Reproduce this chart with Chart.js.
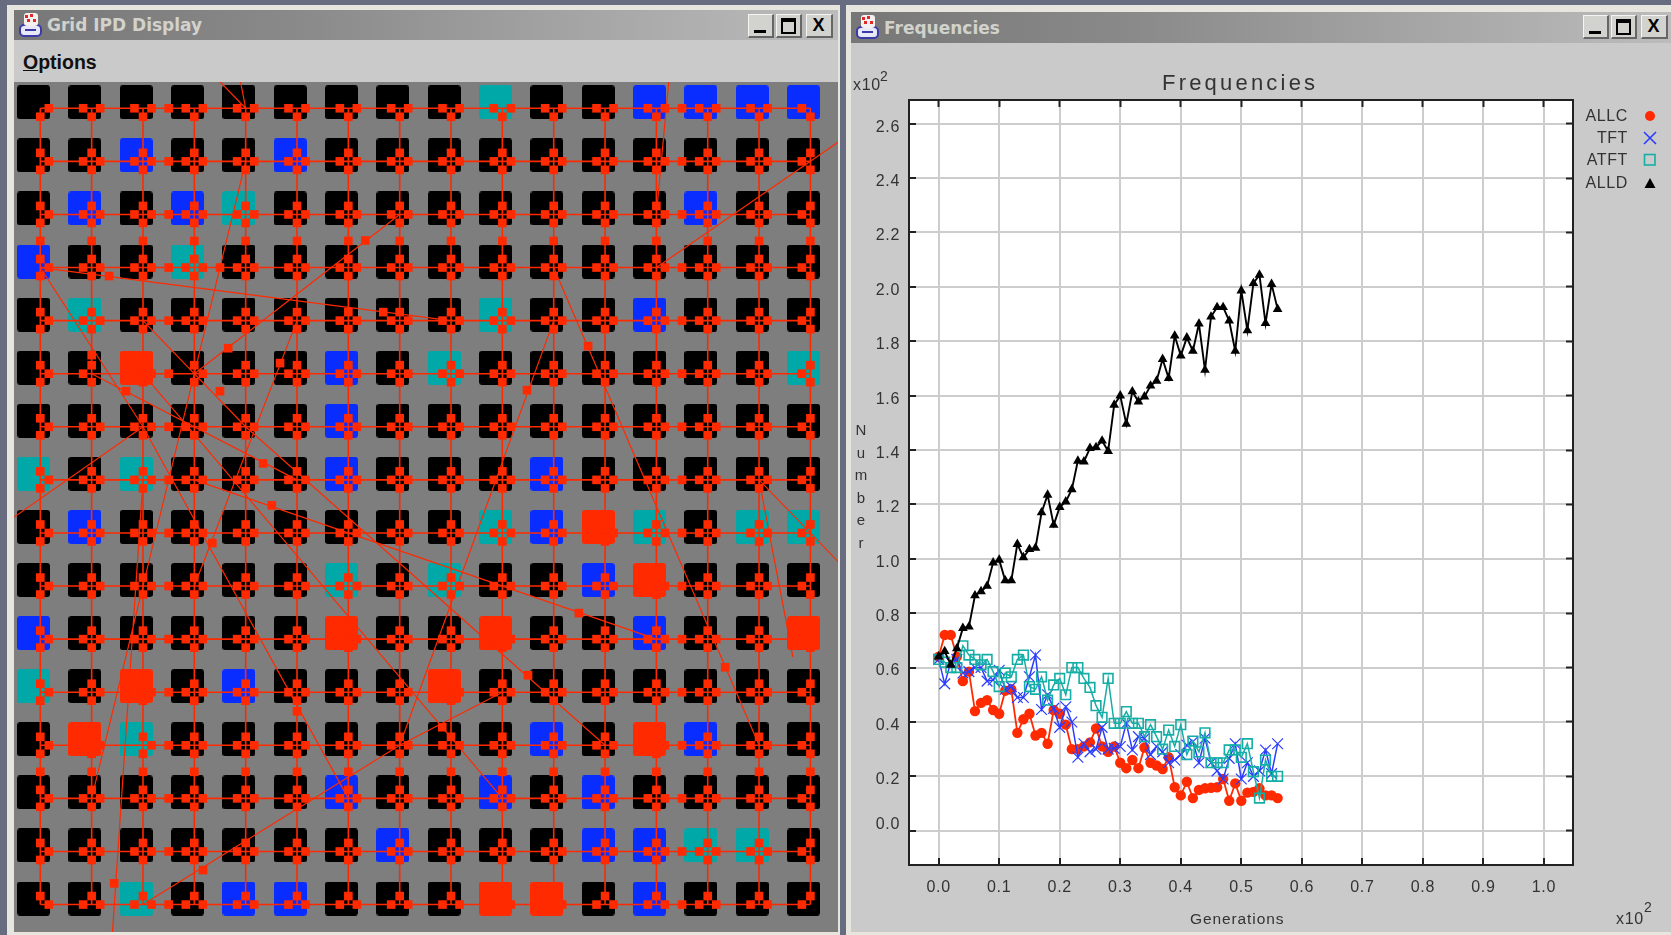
<!DOCTYPE html>
<html>
<head>
<meta charset="utf-8">
<title>Grid IPD Display</title>
<script src="https://cdn.jsdelivr.net/npm/chart.js@4/dist/chart.umd.min.js"></script>
<style>
  html, body { margin: 0; padding: 0; width: 1671px; height: 935px; overflow: hidden; background: #686c80; }
  #desk { position: absolute; left: 0; top: 0; width: 1671px; height: 935px; filter: blur(0.45px); }
  #desk div, #desk canvas, #desk svg { position: absolute; }
  .frame { background: #e6e6de; }
  .titlebar { background: linear-gradient(90deg, #777 0%, #8a8a8a 35%, #a2a2a2 65%, #bcbcbc 100%); }
  .titletext { font: bold 17px "DejaVu Sans", sans-serif; color: #d2d2cc; white-space: nowrap; }
  .panel { background: #cacaca; }
  .btn { width: 25px; height: 22px; background: #d2d2ce; border-top: 1px solid #f4f4f0; border-left: 1px solid #f4f4f0;
         border-right: 2px solid #666; border-bottom: 2px solid #666; box-sizing: border-box; }
  .label { font: 16px "Liberation Sans", sans-serif; color: #333; letter-spacing: 0.7px; white-space: nowrap; }
</style>
</head>
<body>
<div id="desk">
  <div class="frame" style="left:7px;top:5px;width:833px;height:930px"></div>
  <div class="titlebar" style="left:14px;top:10px;width:824px;height:30px"></div>
  <div class="titletext" style="left:47px;top:15px">Grid IPD Display</div>
  <div class="panel" style="left:14px;top:40px;width:824px;height:42px"></div>
  <div style="left:23px;top:51px;font:bold 19.5px 'Liberation Sans',sans-serif;color:#111"><u>O</u>ptions</div>
  <canvas id="gridChart" width="824" height="850" style="left:14px;top:82px"></canvas>

  <div class="frame" style="left:846px;top:5px;width:825px;height:930px"></div>
  <div class="titlebar" style="left:851px;top:12px;width:820px;height:31px"></div>
  <div class="titletext" style="left:884px;top:18px">Frequencies</div>
  <div class="panel" style="left:851px;top:43px;width:820px;height:889px"></div>
  <canvas id="freqChart" width="825" height="892" style="left:846px;top:43px"></canvas>

  <div class="label" style="left:1162px;top:70px;font-size:22px;letter-spacing:3.2px">Frequencies</div>
  <div class="label" style="left:853px;top:76px">x10</div>
  <div class="label" style="left:880px;top:68px;font-size:14px">2</div>
  <div class="label" style="left:1616px;top:910px">x10</div>
  <div class="label" style="left:1644px;top:899px;font-size:14px">2</div>
  <div class="label" style="left:1190px;top:910px;letter-spacing:0.9px;font-size:15.5px">Generations</div>
  <div id="yTitle"></div>
  <div id="legend"></div>
  <div id="chrome"></div>
</div>

<script>
  // ---- Frequencies chart data ----
  const generations = [0, 1, 2, 3, 4, 5, 6, 7, 8, 9, 10, 11, 12, 13, 14, 15, 16, 17, 18, 19, 20, 21, 22, 23, 24, 25, 26, 27, 28,
    29, 30, 31, 32, 33, 34, 35, 36, 37, 38, 39, 40, 41, 42, 43, 44, 45, 46, 47, 48, 49, 50, 51, 52, 53, 54, 55, 56];
  const allc = [64, 72, 72, 64, 55, 58.5, 44, 47, 48, 44.4, 43, 51.5, 52, 36, 41, 43, 35, 36, 32, 44.4, 43, 39, 30, 30, 31, 32.5,
    37.6, 31, 29, 31, 25, 23, 26, 23, 30.6, 25, 24, 22.7, 27, 16, 13, 18, 12, 15, 15.6, 15.8, 16, 19, 11, 17.4, 11, 14, 14.3,
    15.6, 13, 13, 12];
  const tft = [63, 54, 62, 63, 58, 58.5, 60, 60, 55, 55.4, 59, 52, 53, 49, 49, 56.6, 64.6, 44.6, 50, 45, 38, 45.6, 40, 27, 32, 29,
    30, 38, 30, 30.3, 31, 39.5, 29.7, 34.6, 34, 28, 31, 29, 25, 26, 28, 31.5, 32.7, 25, 34, 25, 22, 19, 26.6, 32, 19, 25, 20,
    22, 29.7, 21, 32];
  const atft = [63, 62, 60, 60, 68, 64.6, 63, 61, 63, 58.5, 53, 58, 56.6, 63, 64.6, 53, 52, 56.6, 48, 53.6, 56, 50, 60, 60, 56, 52.7,
    46, 41.7, 56, 39.5, 39.5, 43.8, 39.5, 39.5, 34.6, 39, 34.6, 30, 37, 31, 39, 28, 33, 29, 36, 25, 25, 25, 29.7, 29.7, 27, 32,
    21.7, 12, 26, 20, 20];
  const alld = [64, 66, 61, 67, 74.5, 75, 86.5, 88, 90, 98.6, 99.6, 92, 92, 105.4, 100.5, 103.5, 104, 117, 123.5, 112.4, 119, 121,
    125.5, 136, 135.7, 140.7, 141, 143.4, 139.6, 156.6, 160, 149.6, 161.5, 157.8, 159.6, 163.6, 165.4, 173.4, 166.4, 182, 174.7,
    181.3, 176.4, 186.4, 169.4, 189, 192.5, 192.5, 187.5, 176.4, 198.6, 184, 201.3, 204.4, 186.6, 201, 191.8];
  const seriesNames = ['ALLC', 'TFT', 'ATFT', 'ALLD'];
  const yAxisLetters = ['N', 'u', 'm', 'b', 'e', 'r'];

  // ---- Grid display data: k black, b blue, t teal, r red ----
  const gridRows = [
    'kkkkkkkkktkkbbbb',
    'kkbkkbkkkkkkkkkk',
    'kbkbtkkkkkkkkbkk',
    'bkktkkkkkkkkkkkk',
    'ktkkkkkkktkkbkkk',
    'kkrkkkbktkkkkkkt',
    'kkkkkkbkkkkkkkkk',
    'tktkkkbkkkbkkkkk',
    'kbkkkkkkktbrtktt',
    'kkkkkktktkkbrkkk',
    'bkkkkkrkkrkkbkkr',
    'tkrkbkkkrkkkkkkk',
    'krtkkkkkkkbkrbkk',
    'kkkkkkbkkbkbkkkk',
    'kkkkkkkbkkkbbttk',
    'kktkbbkkkrrkbkkk'
  ];
  // long links in node units: fromCol, fromRow, toCol, toRow (some run off the panel)
  const shortcuts = [
    [0, 3, 8, 4], [0, 3, 2, 6], [2, 4, 4, 6], [2, 5, 9, 13], [1, 5, 5, 7], [3, 5, 7, 2],
    [4, 1, 1, 13], [5, 4, 3, 9], [2, 6, 6, 13], [2, 6, -0.51, 7.7], [2, 7, 1.4, 15.6],
    [10, 4, 7, 12], [7, 12, 2, 15], [9, 11, 7, 12], [3, 7, 12, 10], [4, 6, 11, 12],
    [10, 3, 14, 12], [12, 3, 15.6, 0.6], [14, 7, 15.6, 8.6], [14, 7, 14.66, 10.34],
    [12, 2, 12.24, -0.5], [4, 0, 3.5, -0.5], [4, 0, 3.9, -0.5]
  ];
  const linkMarks = [
    [1.34, 3.16], [6.68, 3.84], [3.66, 4.52], [6.33, 2.49], [1.67, 5.33], [4.34, 6.69], [3.5, 5.33], [3.5, 3],
    [4.67, 4.8], [3.35, 8.19], [5, 11.36], [4.51, 7.48], [10.49, 9.51], [1.44, 14.6], [3.17, 14.35], [7.83, 11.66],
    [9.5, 10.68], [9.48, 5.31], [10.67, 4.48], [13.34, 10.53], [1, 4.65]
  ];
  const midColumns = [2.5, 12.5];
  const midRows = [2.5, 12.5];
  const hiddenSquares = ['1,5,E', '3,5,W', '2,12,W'];

  const RED = '#ff2a00';
  const CELL_COLORS = { k: '#000000', b: '#0a2dff', t: '#00a8a8', r: RED };
  const NODE_DX = 0.1325, NODE_DY = 0.113;
  const SIDE = 16;

  function cellSprite(color) {
    const c = document.createElement('canvas');
    c.width = 33; c.height = 34;
    const g = c.getContext('2d');
    g.fillStyle = color;
    g.beginPath();
    g.roundRect(0, 0, 33, 34, 3);
    g.fill();
    return c;
  }

  function cellsOf(kind) {
    const pts = [];
    gridRows.forEach((row, r) => {
      for (let c = 0; c < row.length; c++) {
        if (row[c] === kind) pts.push({ x: c, y: r });
      }
    });
    return pts;
  }

  function latticePath() {
    const pts = [];
    for (let i = 0; i < SIDE; i++) {
      pts.push({ x: NODE_DX, y: i + NODE_DY }, { x: SIDE - 1 + NODE_DX, y: i + NODE_DY }, { x: null, y: null });
      pts.push({ x: i + NODE_DX, y: NODE_DY }, { x: i + NODE_DX, y: SIDE - 1 + NODE_DY }, { x: null, y: null });
    }
    return pts;
  }

  function shortcutPath() {
    const pts = [];
    shortcuts.forEach(s => {
      pts.push({ x: s[0] + NODE_DX, y: s[1] + NODE_DY }, { x: s[2] + NODE_DX, y: s[3] + NODE_DY }, { x: null, y: null });
    });
    return pts;
  }

  function squarePoints() {
    const pts = [];
    for (let r = 0; r < SIDE; r++) {
      for (let c = 0; c < SIDE; c++) {
        const x = c + NODE_DX, y = r + NODE_DY;
        if (r > 0) pts.push({ x: x, y: y - 0.16 });
        if (r < SIDE - 1) pts.push({ x: x, y: y + 0.16 });
        if (c > 0 && !hiddenSquares.includes(c + ',' + r + ',W')) pts.push({ x: x - 0.166, y: y });
        if (c < SIDE - 1 && !hiddenSquares.includes(c + ',' + r + ',E')) pts.push({ x: x + 0.166, y: y });
      }
    }
    for (let i = 0; i < SIDE; i++) {
      midColumns.forEach(m => pts.push({ x: m + NODE_DX, y: i + NODE_DY }));
      midRows.forEach(m => pts.push({ x: i + NODE_DX, y: m + NODE_DY }));
    }
    linkMarks.forEach(m => pts.push({ x: m[0] + NODE_DX, y: m[1] + NODE_DY }));
    return pts;
  }

  const hidden = { display: false };

  new Chart(document.getElementById('gridChart'), {
    type: 'scatter',
    data: {
      datasets: [
        ...Object.keys(CELL_COLORS).map(kind => ({
          label: kind,
          data: cellsOf(kind),
          pointStyle: cellSprite(CELL_COLORS[kind]),
          pointRadius: 17,
          order: 5
        })),
        { data: latticePath(), showLine: true, pointRadius: 0, borderColor: RED, borderWidth: 1.6, spanGaps: false, order: 4 },
        { data: shortcutPath(), showLine: true, pointRadius: 0, borderColor: RED, borderWidth: 1.2, spanGaps: false, order: 3 },
        { data: squarePoints(), pointStyle: 'rect', pointRadius: 6.1, pointBorderWidth: 0, backgroundColor: RED, order: 2 }
      ]
    },
    options: {
      responsive: false,
      animation: false,
      events: [],
      layout: { padding: 0, autoPadding: false },
      plugins: { legend: hidden, tooltip: { enabled: false } },
      scales: {
        x: { display: false, min: -0.38, max: 15.67 },
        y: { display: false, min: -0.382, max: 15.63, reverse: true }
      }
    },
    plugins: [{
      id: 'panelBg',
      beforeDraw(chart) {
        chart.ctx.fillStyle = '#7e7e7e';
        chart.ctx.fillRect(0, 0, chart.width, chart.height);
      }
    }]
  });

  function pairs(values) {
    return values.map((v, i) => ({ x: generations[i], y: v }));
  }

  const TICK_FONT = { family: 'Liberation Sans', size: 16 };
  const gridStyle = { color: '#cdcdcd', lineWidth: 2, tickColor: '#222', tickWidth: 2, tickLength: -7 };
  const sideAxisGrid = { drawOnChartArea: false, tickColor: '#222', tickWidth: 2, tickLength: -7 };
  const axisBorder = { color: '#222', width: 2 };
  const X_MIN = -4.9, X_MAX = 104.8, Y_MIN = -12.6, Y_MAX = 268.7;

  new Chart(document.getElementById('freqChart'), {
    type: 'line',
    data: {
      datasets: [
        { label: seriesNames[0], data: pairs(allc), borderColor: RED, backgroundColor: RED, borderWidth: 1.8,
          pointStyle: 'circle', pointRadius: 5.2, pointBorderWidth: 0, order: 4 },
        { label: seriesNames[1], data: pairs(tft), borderColor: '#2a3cff', backgroundColor: 'transparent', borderWidth: 1.5,
          pointStyle: 'crossRot', pointRadius: 7.6, pointBorderWidth: 1.2, pointBorderColor: '#2a3cff', order: 3 },
        { label: seriesNames[2], data: pairs(atft), borderColor: '#14aea6', backgroundColor: 'transparent', borderWidth: 1.5,
          pointStyle: 'rect', pointRadius: 6.8, pointBorderWidth: 1.6, pointBorderColor: '#14aea6', order: 2 },
        { label: seriesNames[3], data: pairs(alld), borderColor: '#000', backgroundColor: '#000', borderWidth: 1.9,
          pointStyle: 'triangle', pointRadius: 5.6, pointBorderWidth: 0, order: 1 }
      ]
    },
    options: {
      responsive: false,
      animation: false,
      events: [],
      layout: { padding: { top: 57, right: 98, bottom: 0, left: 0 }, autoPadding: false },
      plugins: { legend: hidden, tooltip: { enabled: false } },
      scales: {
        x: {
          type: 'linear', min: X_MIN, max: X_MAX,
          grid: gridStyle, border: axisBorder,
          afterFit: s => { s.height = 70; },
          ticks: {
            stepSize: 10, includeBounds: false, autoSkip: false, maxRotation: 0, padding: 20,
            color: '#333', font: TICK_FONT,
            callback: v => (v / 100).toFixed(1)
          }
        },
        y: {
          min: Y_MIN, max: Y_MAX,
          grid: gridStyle, border: axisBorder,
          afterFit: s => { s.width = 63; },
          ticks: {
            stepSize: 20, includeBounds: false, autoSkip: false, padding: 16, labelOffset: 3.5,
            color: '#333', font: TICK_FONT,
            // the 0.0 label sits above its gridline in the original
            callback: v => v === 0 ? ['0.0', ''] : (v / 100).toFixed(1)
          }
        },
        x2: {
          type: 'linear', axis: 'x', position: 'top', min: X_MIN, max: X_MAX,
          grid: sideAxisGrid, border: axisBorder,
          afterFit: s => { s.height = 0; },
          ticks: { stepSize: 10, includeBounds: false, autoSkip: false, display: false }
        },
        y2: {
          type: 'linear', axis: 'y', position: 'right', min: Y_MIN, max: Y_MAX,
          grid: sideAxisGrid, border: axisBorder,
          afterFit: s => { s.width = 0; },
          ticks: { stepSize: 20, includeBounds: false, autoSkip: false, display: false }
        }
      }
    },
    plugins: [{
      id: 'plotBg',
      beforeDraw(chart) {
        const a = chart.chartArea;
        chart.ctx.letterSpacing = '0.7px';
        chart.ctx.fillStyle = '#fff';
        chart.ctx.fillRect(a.left, a.top, a.width, a.height);
      }
    }]
  });

  // ---- page furniture: y title, legend, window icons and buttons ----
  const desk = document.getElementById('desk');

  yAxisLetters.forEach((ch, i) => {
    const d = document.createElement('div');
    d.className = 'label';
    d.textContent = ch;
    d.style.cssText = 'left:854px;width:14px;text-align:center;font-size:15px;letter-spacing:0;top:' + (421 + i * 22.5) + 'px';
    desk.appendChild(d);
  });

  const legendMarks = [
    '<circle cx="8" cy="8" r="5" fill="#ff2a00"/>',
    '<path d="M2 2L14 14M14 2L2 14" stroke="#2a3cff" stroke-width="1.6"/>',
    '<rect x="2.5" y="2.5" width="10.5" height="10.5" fill="none" stroke="#14aea6" stroke-width="1.6"/>',
    '<path d="M8 3L13.5 13H2.5Z" fill="#000"/>'
  ];
  seriesNames.forEach((name, i) => {
    const y = 116 + i * 22.2;
    const t = document.createElement('div');
    t.className = 'label';
    t.textContent = name;
    t.style.cssText = 'right:43px;font-size:16px;letter-spacing:0.6px;top:' + (y - 9) + 'px';
    desk.appendChild(t);
    desk.insertAdjacentHTML('beforeend',
      '<svg width="16" height="16" style="left:1642px;top:' + (y - 8) + 'px">' + legendMarks[i] + '</svg>');
  });

  function windowIcon(x, y) {
    desk.insertAdjacentHTML('beforeend',
      '<svg width="27" height="27" style="left:' + x + 'px;top:' + y + 'px">' +
      '<rect x="3" y="14" width="21" height="11" rx="4" fill="#e8e8f8" stroke="#3a3aa8" stroke-width="2"/>' +
      '<rect x="7" y="2" width="14" height="13" rx="3" fill="#f4f0f0"/>' +
      '<path d="M8 4h3v3H8zM13 3h3v3h-3zM10 8h3v3h-3zM16 8h3v3h-3z" fill="#e02828"/>' +
      '<path d="M8 19h11" stroke="#3a3aa8" stroke-width="2"/></svg>');
  }
  windowIcon(17, 11);
  windowIcon(854, 13);

  function windowButtons(left, top) {
    const html = [
      '<div style="left:5px;bottom:3px;width:12px;height:3px;background:#000"></div>',
      '<div style="left:4px;top:3px;width:11px;height:10px;border:2px solid #000;border-top-width:4px;box-sizing:content-box"></div>',
      '<div style="left:0;top:0;width:23px;text-align:center;font:bold 18px \'Liberation Sans\',sans-serif;line-height:20px;color:#000">X</div>'
    ];
    [0, 28, 58].forEach((dx, i) => {
      desk.insertAdjacentHTML('beforeend',
        '<div class="btn" style="left:' + (left + dx) + 'px;top:' + top + 'px;height:24px;width:' + (i === 2 ? 27 : 26) + 'px">' + html[i] + '</div>');
    });
  }
  windowButtons(748, 14);
  windowButtons(1583, 15);
</script>
</body>
</html>
